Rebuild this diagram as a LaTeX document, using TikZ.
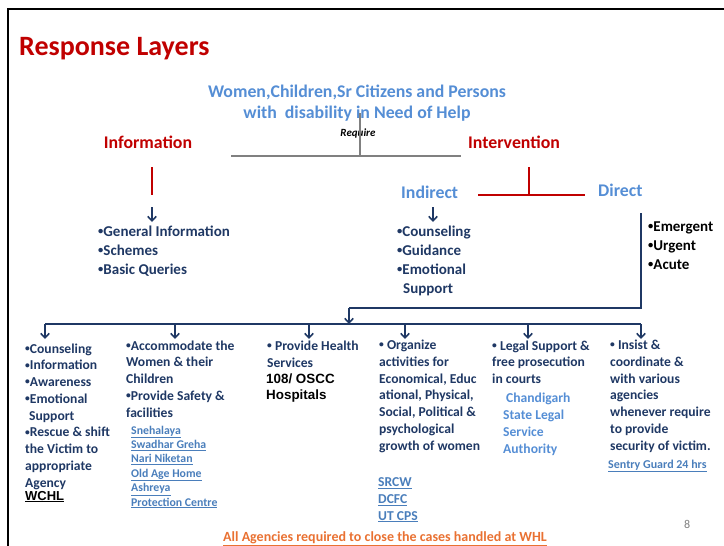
\documentclass[tikz,border=0pt]{standalone}
\usepackage{fontspec}
\setmainfont{Carlito}
\newfontfamily\arialfont{Liberation Sans}
\usetikzlibrary{arrows.meta}
\definecolor{navy}{HTML}{1F3864}
\definecolor{skyblue}{HTML}{558ED5}
\definecolor{linkblue}{HTML}{4A7EBB}
\definecolor{darkred}{HTML}{C00000}
\definecolor{footorange}{HTML}{E97132}
\newcommand\mybul{\raisebox{0.12em}{\scalebox{0.7}{•}}}
\begin{document}
\begin{tikzpicture}[x=1pt,y=-1pt,
  every node/.style={inner sep=0pt, anchor=base west, align=left},
  head/.style={font=\fontsize{17.8}{21}\selectfont\bfseries, text=darkred},
  sub/.style={font=\fontsize{17.8}{21}\selectfont\bfseries, text=skyblue},
  lst/.style={font=\fontsize{15}{19}\selectfont\bfseries, text=navy},
  col/.style={font=\fontsize{13.6}{16.75}\selectfont\bfseries, text=navy},
  lnk/.style={font=\fontsize{11.8}{14.4}\selectfont\bfseries, text=linkblue},
  dn/.style={-{Straight Barb[length=4.5pt,width=8.5pt,line width=1.6pt]}, navy, line width=1.6pt},
  bus/.style={navy, line width=1.6pt},
]
  \useasboundingbox (0,0) rectangle (724,546);
  \draw[line width=2.5pt] (8,546) -- (8,9) -- (724,9); % slide frame

  \node[font=\fontsize{28}{30}\selectfont\bfseries, text=darkred] (title) at (19,56) {Response Layers};

  % who needs help (multi-line nodes sit on their last baseline)
  \node[sub, align=center, anchor=base] (target) at (357,118)
    {Women,Children,Sr Citizens and Persons\\with\ \ disability in Need of Help};
  \node[font=\fontsize{11}{12}\selectfont\bfseries\itshape, anchor=base] (req) at (358,136) {Require};
  \coordinate (stem) at (360,113);
  \coordinate (bar-l) at (231,156);
  \coordinate (bar-r) at (461,156);
  \draw[gray, line width=1.5pt] (stem) -- (stem |- bar-l);
  \draw[gray, line width=1.5pt] (bar-l) -- (bar-r);

  % two layers
  \node[head, anchor=base] (info) at (148,148) {Information};
  \node[head] (interv) at (468,148) {Intervention};
  \coordinate (info-t) at (152,167);
  \coordinate (info-b) at (152,195);
  \draw[darkred, line width=1.5pt] (info-t) -- (info-b);
  \coordinate (int-t) at (529,167);
  \coordinate (int-l) at (478,195);
  \coordinate (int-r) at (585,195);
  \draw[darkred, line width=1.5pt] (int-t) -- (int-t |- int-l);
  \draw[darkred, line width=1.5pt] (int-l) -- (int-r);

  \node[sub] (indirect) at (401,198) {Indirect};
  \node[sub] (direct) at (598,196) {Direct};

  \coordinate (info-a) at (152,222);
  \coordinate (ind-a) at (433,222);
  \draw[dn] (info-a) ++(0,-15) -- (info-a);
  \draw[dn] (ind-a) ++(0,-15) -- (ind-a);

  \node[lst] (infolist) at (98,274) {\mybul General Information\\\mybul Schemes\\\mybul Basic Queries};
  \node[lst] (indlist) at (397,293) {\mybul Counseling\\\mybul Guidance\\\mybul Emotional\\\hspace*{6pt}Support};
  \node[lst, text=black] (acute) at (648,269) {\mybul Emergent\\\mybul Urgent\\\mybul Acute};

  % direct -> all agencies
  \coordinate (dir-t) at (641,213);
  \coordinate (dir-c) at (641,308);
  \coordinate (dir-l) at (349,308);
  \coordinate (bus-l) at (45,324);
  \coordinate (bus-r) at (641,324);
  \draw[bus] (dir-t) -- (dir-c) -- (dir-l);
  \draw[dn] (dir-l) -- (dir-l |- bus-l);
  \draw[bus] (bus-l) -- (bus-r);
  \foreach \i/\x in {1/45,2/175,3/309,4/405,5/528,6/641}
    \coordinate (tip\i) at (\x,339);
  \foreach \i in {1,...,6}
    \draw[dn] (tip\i |- bus-l) -- (tip\i);

  % agency columns
  \node[col] (c1) at (25,487) {\mybul Counseling\\\mybul Information\\\mybul Awareness\\\mybul Emotional\\\hspace*{4pt}Support\\\mybul Rescue \& shift\\the Victim to\\appropriate\\Agency};
  \node[font=\arialfont\fontsize{13}{15}\selectfont\bfseries] (wchl) at (25,500) {\underline{WCHL}};

  \node[col] (c2) at (126,417) {\mybul Accommodate the\\Women \& their\\Children\\\mybul Provide Safety \&\\facilities};
  \node[lnk] (homes) at (131,506) {\underline{Snehalaya}\\\underline{Swadhar Greha}\\\underline{Nari Niketan}\\\underline{Old Age Home}\\\underline{Ashreya}\\\underline{Protection Centre}};

  \node[col] (c3) at (267,367) {\mybul\ Provide Health\\Services};
  \node[font=\arialfont\fontsize{13.4}{16}\selectfont\bfseries] (oscc) at (266,399) {108/ OSCC\\Hospitals};

  \node[col] (c4) at (379,450) {\mybul\ Organize\\activities for\\Economical, Educ\\ational, Physical,\\Social, Political \&\\psychological\\growth of women};
  \node[col, text=linkblue] (cells) at (378,520) {\underline{SRCW}\\\underline{DCFC}\\\underline{UT CPS}};

  \node[col] (c5) at (492,383.5) {\mybul\ Legal Support \&\\free prosecution\\in courts};
  \node[col, text=skyblue] (legal) at (503,453) {\hspace*{3pt}Chandigarh\\State Legal\\Service\\Authority};

  \node[col] (c6) at (610,450) {\mybul\ Insist \&\\coordinate \&\\with various\\agencies\\whenever require\\to provide\\security of victim.};
  \node[lnk, font=\fontsize{12}{14}\selectfont\bfseries] (guard) at (608,468) {\underline{Sentry Guard 24 hrs}};

  \node[font=\fontsize{14}{16}\selectfont\bfseries, text=footorange, anchor=base] (footer) at (385,541)
    {\underline{All Agencies required to close the cases handled at WHL}};
  \node[font=\fontsize{12}{14}\selectfont, text=gray] (pgno) at (684,528) {8};
\end{tikzpicture}
\end{document}
